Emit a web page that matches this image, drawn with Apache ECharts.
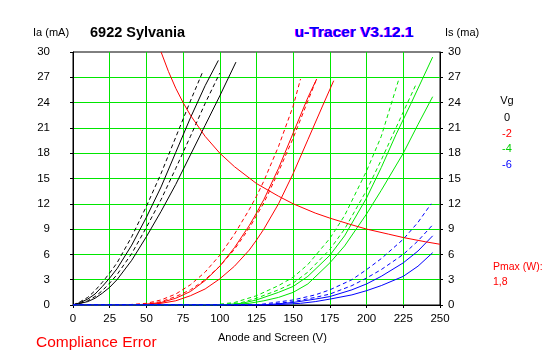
<!DOCTYPE html>
<html>
<head>
<meta charset="utf-8">
<script src="https://cdn.jsdelivr.net/npm/echarts@6/dist/echarts.min.js"></script>
<style>
html,body{margin:0;padding:0;background:#fff;}
#c{width:547px;height:357px;}
</style>
</head>
<body>
<div id="c"></div>
<script>
// Vg = 0 V (black)
const vg0_dashA  = [[0,0],[5,0.4],[10,0.9],[15,1.7],[20,2.7],[25,3.8],[30,5.0],[40,8.1],[50,11.7],[60,15.6],[70,19.9],[80,24.2],[88,27.5]];
const vg0_solidA = [[0,0],[5,0.3],[10,0.7],[15,1.3],[20,2.2],[25,3.2],[30,4.3],[40,7.1],[50,10.4],[60,14.0],[70,18.1],[80,22.2],[90,26.0],[99,29.0]];
const vg0_dashB  = [[0,0],[5,0.2],[10,0.5],[15,1.0],[20,1.7],[25,2.6],[30,3.6],[40,6.1],[50,9.2],[60,12.5],[70,16.2],[80,20.0],[90,23.9],[100,27.5]];
const vg0_solidB = [[0,0],[5,0.2],[10,0.4],[15,0.8],[20,1.4],[25,2.1],[30,3.0],[40,5.3],[50,8.1],[60,11.1],[70,14.3],[80,17.8],[90,21.3],[100,24.8],[111,28.8]];
// Vg = -2 V (red)
const vg2_dashA  = [[0,0],[35,0],[50,0.2],[60,0.6],[70,1.3],[80,2.4],[90,3.9],[100,5.9],[110,8.4],[120,11.3],[125,12.9],[130,14.7],[140,18.8],[150,23.6],[155,26.8]];
const vg2_solidA = [[0,0],[40,0],[50,0.1],[60,0.3],[70,0.8],[80,1.6],[90,2.9],[100,4.6],[110,6.8],[120,9.4],[125,10.9],[130,12.5],[140,16.2],[150,20.4],[160,24.6],[166,26.8]];
const vg2_dashB  = [[0,0],[40,0],[50,0.1],[60,0.4],[70,1.0],[80,1.8],[90,3.0],[100,4.6],[110,6.6],[120,9.1],[130,12.1],[140,15.8],[150,19.8],[160,24.2],[165.5,26.6]];
const vg2_solidB = [[0,0],[45,0],[60,0.2],[70,0.5],[80,1.1],[90,1.9],[100,3.1],[110,4.6],[120,6.5],[125,7.7],[130,9.0],[140,12.0],[150,15.6],[160,19.6],[170,23.6],[177.6,26.6]];
// Vg = -4 V (green)
const vg4_dashA  = [[0,0],[95,0],[110,0.3],[125,1.1],[140,2.3],[150,3.3],[160,4.8],[175,7.9],[185,10.6],[200,15.9],[210,20.0],[222,26.8]];
const vg4_dashB  = [[0,0],[100,0],[115,0.3],[125,0.8],[140,1.8],[150,2.6],[160,3.9],[175,6.6],[185,9.0],[200,13.6],[210,17.2],[220,21.0],[233.5,26.1]];
const vg4_solidA = [[0,0],[100,0],[115,0.2],[125,0.6],[140,1.5],[150,2.2],[160,3.4],[175,5.9],[185,8.2],[200,12.7],[210,16.3],[220,20.2],[230,23.8],[245,29.4]];
const vg4_solidB = [[0,0],[105,0],[120,0.2],[130,0.5],[140,0.9],[150,1.5],[160,2.5],[175,5.0],[185,7.0],[200,10.8],[210,13.6],[225,18.0],[235,21.4],[245,24.7]];
// Vg = -6 V (blue)
const vg6_dashA  = [[0,0],[125,0],[150,0.6],[165,1.2],[175,1.8],[190,3.0],[200,4.2],[210,5.5],[225,7.8],[235,9.8],[244,12.0]];
const vg6_dashB  = [[0,0],[130,0],[150,0.4],[165,0.9],[175,1.3],[190,2.3],[200,3.2],[210,4.2],[225,6.0],[235,7.6],[245,9.5]];
const vg6_solidA = [[0,0],[130,0],[150,0.3],[165,0.7],[175,1.0],[190,1.8],[200,2.5],[210,3.4],[225,5.0],[235,6.4],[245,8.2]];
const vg6_solidB = [[0,0],[135,0],[155,0.2],[165,0.4],[175,0.7],[190,1.2],[200,1.7],[210,2.3],[225,3.4],[235,4.6],[245,6.2]];
// Pmax = 1.8 W curve
const pmaxCurve = [[60,30],[65,27.7],[70,25.7],[75,24],[80,22.5],[90,20],[100,18],[110,16.4],[125,14.4],[140,12.9],[150,12],[165,10.9],[175,10.3],[190,9.5],[200,9],[215,8.4],[225,8],[240,7.5],[250,7.2]];

const vgLabels = ['0','-2','-4','-6'];
const vgColors = ['#000000','#ff0000','#00e600','#0000ff'];
const vgTextColors = ['#000000','#ff0000','#00d000','#0000ff'];
const xTitle = 'Anode and Screen (V)';

const FONT = 'Liberation Sans, Arial, sans-serif';
const chart = echarts.init(document.getElementById('c'), null, {renderer:'canvas'});

function curve(data, color, dashed){
  return {
    type:'line', data:data, showSymbol:false, symbol:'none',
    smooth:false, animation:false, silent:true,
    lineStyle:{color:color, width:1, type: dashed ? [4,3] : 'solid'}
  };
}

const groups = [
  [vg0_dashA, vg0_solidA, vg0_dashB, vg0_solidB],
  [vg2_dashA, vg2_solidA, vg2_dashB, vg2_solidB],
  [vg4_dashA, vg4_dashB, vg4_solidA, vg4_solidB],
  [vg6_dashA, vg6_dashB, vg6_solidA, vg6_solidB]
];
const dashFlags = [
  [true,false,true,false],
  [true,false,true,false],
  [true,true,false,false],
  [true,true,false,false]
];
const series = [];
groups.forEach((g,gi)=>{
  g.forEach((d,di)=>series.push(curve(d, vgColors[gi], dashFlags[gi][di])));
});
series.push({type:'line', data:pmaxCurve, showSymbol:false, symbol:'none', smooth:false, animation:false, silent:true, lineStyle:{color:'#ff0000', width:1}});

function txt(x, y, s, color, size, weight, align){
  return {type:'text', x:x, y:y, silent:true,
    style:{text:s, fill:color, font:(weight||'normal')+' '+size+'px '+FONT, textAlign:align||'left', textVerticalAlign:'middle'}};
}

const graphics = [
  txt(33,33,'Ia (mA)','#000',11),
  txt(90,33,'6922 Sylvania','#000',14.5,'bold'),
  txt(294,33,'u-Tracer V3.12.1','#ff00ff',15.5,'bold'),
  txt(295,33,'u-Tracer V3.12.1','#0000ff',15.5,'bold'),
  txt(445,33,'Is (ma)','#000',11),
  txt(507,101,'Vg','#000',11,'normal','center'),
  txt(493,267,'Pmax (W):','#ff0000',10.5),
  txt(493,282,'1,8','#ff0000',10.5),
  txt(36,343,'Compliance Error','#ff0000',15.5),
  txt(218,338,xTitle,'#000',11)
];
vgLabels.forEach((l,i)=>{
  graphics.push(txt(507,118+i*15.6,l,vgTextColors[i],11,'normal','center'));
});

chart.setOption({
  animation:false,
  backgroundColor:'#fff',
  textStyle:{fontFamily:FONT},
  grid:{left:73, right:107, top:52, bottom:52, show:true, borderColor:'#000', borderWidth:1, backgroundColor:'transparent'},
  xAxis:{
    type:'value', min:0, max:250, interval:25,
    axisLine:{show:true, onZero:false, lineStyle:{color:'#000', width:1}},
    axisTick:{show:true, inside:false, length:3, lineStyle:{color:'#000'}},
    axisLabel:{color:'#000', fontSize:11.5, fontFamily:FONT, margin:8},
    splitLine:{show:true, showMinLine:false, showMaxLine:false, lineStyle:{color:'#00e600', width:1}}
  },
  yAxis:[{
    type:'value', min:0, max:30, interval:3, position:'left',
    axisLine:{show:true, lineStyle:{color:'#000', width:1}},
    axisTick:{show:true, length:3, lineStyle:{color:'#000'}},
    axisLabel:{color:'#000', fontSize:11.5, fontFamily:FONT, margin:23},
    splitLine:{show:true, showMinLine:false, showMaxLine:false, lineStyle:{color:'#00e600', width:1}}
  },{
    type:'value', min:0, max:30, interval:3, position:'right',
    axisLine:{show:true, lineStyle:{color:'#000', width:1}},
    axisTick:{show:true, length:3, lineStyle:{color:'#000'}},
    axisLabel:{color:'#000', fontSize:11.5, fontFamily:FONT, margin:8},
    splitLine:{show:false}
  }],
  series:series,
  graphic:graphics
});
</script>
</body>
</html>
